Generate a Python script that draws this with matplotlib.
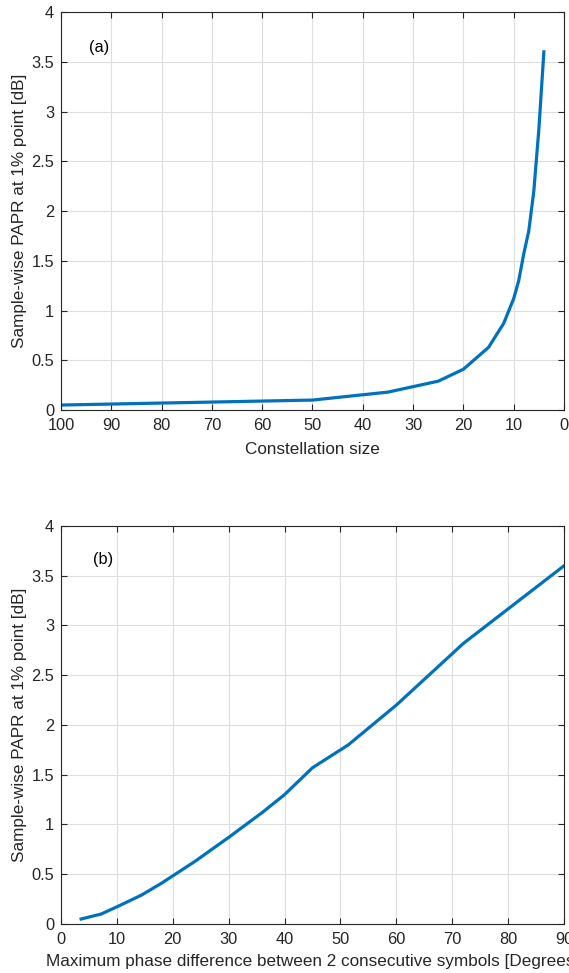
import matplotlib
matplotlib.use("Agg")
import matplotlib.pyplot as plt
from matplotlib.ticker import FuncFormatter

plt.rcParams["font.family"] = ["Liberation Sans", "DejaVu Sans"]

# PAPR at 1% point vs constellation size (a) and vs max phase step (b)
constellation_size = [4, 5, 6, 7, 8, 9, 10, 12, 15, 20, 25, 35, 50, 100]
phase_diff_deg = [90, 72, 60, 51.4, 45, 40, 36, 30, 24, 18, 14.4, 10.3, 7.2, 3.6]
papr_db = [3.6, 2.82, 2.2, 1.8, 1.57, 1.3, 1.12, 0.87, 0.63, 0.41, 0.29, 0.18, 0.1, 0.05]

y_ticks = [0, 0.5, 1, 1.5, 2, 2.5, 3, 3.5, 4]
x_ticks_a = [100, 90, 80, 70, 60, 50, 40, 30, 20, 10, 0]
x_ticks_b = [0, 10, 20, 30, 40, 50, 60, 70, 80, 90]

line_color = (0, 0.447, 0.741)
dark = (0.15, 0.15, 0.15)

fig = plt.figure(figsize=(5.69, 9.73), dpi=100)
ax1 = fig.add_axes([0.1072, 0.5786, 0.884, 0.409])
ax2 = fig.add_axes([0.1072, 0.0504, 0.884, 0.409])


def matlab_style(ax):
    ax.grid(True, color=(0.87, 0.87, 0.87), linewidth=0.8)
    ax.set_axisbelow(True)
    for s in ax.spines.values():
        s.set_color(dark)
        s.set_linewidth(0.8)
    ax.tick_params(direction="in", top=True, right=True, length=4, width=0.8,
                   colors=dark, labelsize=11.8)
    ax.tick_params(axis="x", pad=6)
    ax.tick_params(axis="y", pad=5)
    ax.yaxis.set_major_formatter(FuncFormatter(lambda v, p: "%g" % v))
    ax.xaxis.set_major_formatter(FuncFormatter(lambda v, p: "%g" % v))


# (a)
ax1.plot(constellation_size, papr_db, color=line_color, linewidth=2.3)
ax1.set_xlim(100, 0)
ax1.set_ylim(0, 4)
ax1.set_xticks(x_ticks_a)
ax1.set_yticks(y_ticks)
matlab_style(ax1)
ax1.set_xlabel("Constellation size", fontsize=12.3, color=dark, labelpad=6)
ax1.set_ylabel("Sample-wise PAPR at 1% point [dB]", fontsize=12.3, color=dark, labelpad=3)
ax1.text(92.5, 3.64, "(a)", fontsize=11.8, color="black", va="center", ha="center")

# (b)
ax2.plot(phase_diff_deg, papr_db, color=line_color, linewidth=2.3)
ax2.set_xlim(0, 90)
ax2.set_ylim(0, 4)
ax2.set_xticks(x_ticks_b)
ax2.set_yticks(y_ticks)
matlab_style(ax2)
ax2.set_xlabel("Maximum phase difference between 2 consecutive symbols [Degrees]",
               fontsize=12.3, color=dark, labelpad=5)
ax2.set_ylabel("Sample-wise PAPR at 1% point [dB]", fontsize=12.3, color=dark, labelpad=3)
ax2.text(7.5, 3.66, "(b)", fontsize=11.8, color="black", va="center", ha="center")

fig.savefig("out.png", dpi=100)
